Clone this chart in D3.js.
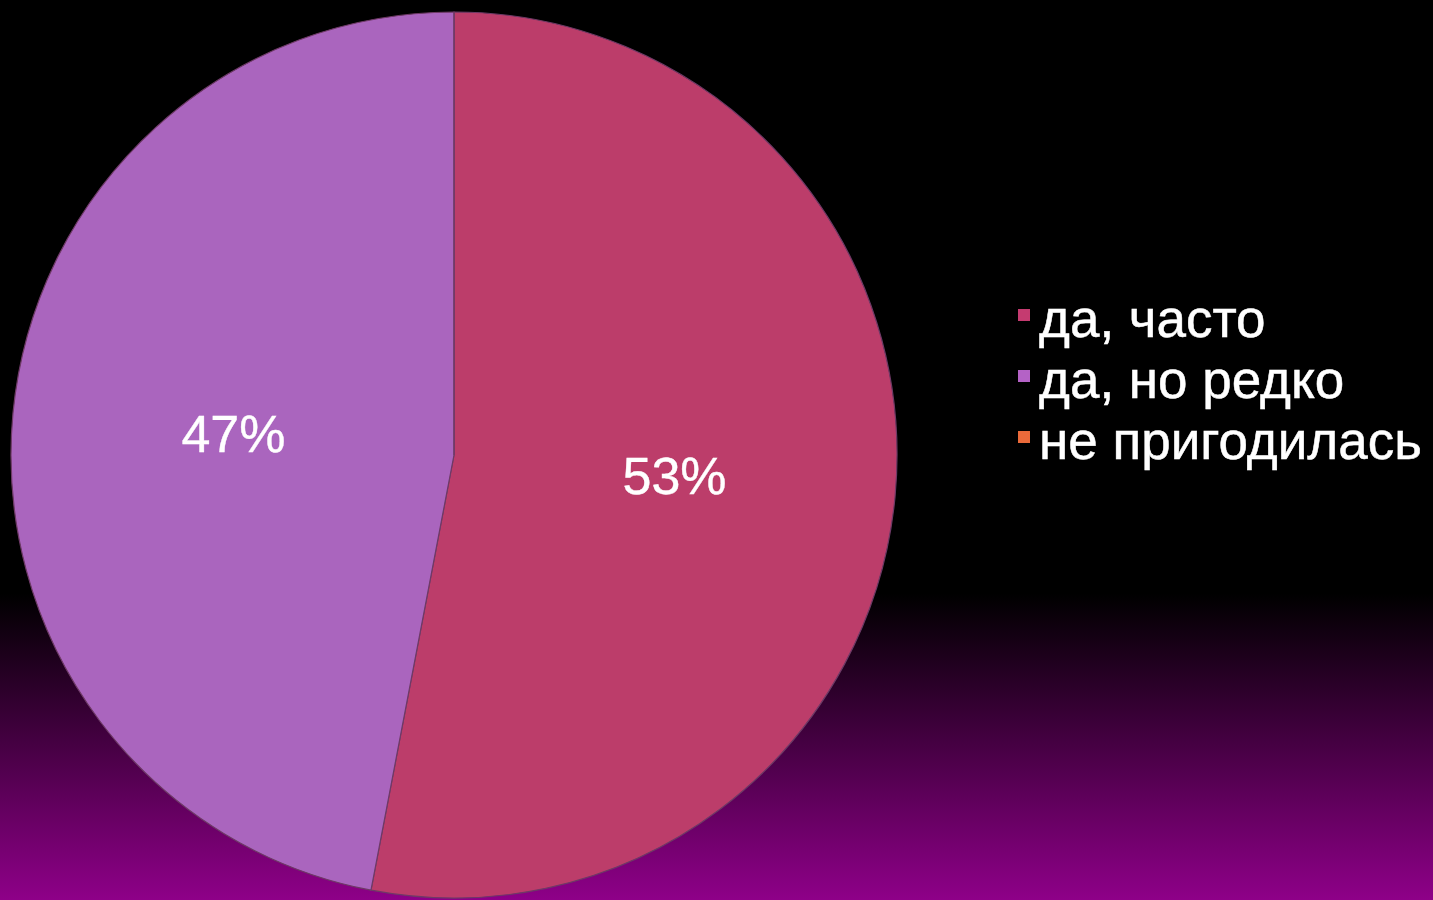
<!DOCTYPE html>
<html>
<head>
<meta charset="utf-8">
<script src="https://cdn.jsdelivr.net/npm/d3@7"></script>
<style>
html,body{margin:0;padding:0;overflow:hidden;}
body{width:1433px;height:900px;}
</style>
</head>
<body>
<svg id="chart" width="1433" height="900"></svg>
<script>
const categories = ["да, часто", "да, но редко", "не пригодилась"];
const values = [53, 47, 0];
const labels = ["53%", "47%", ""];
const colors = ["#BC3D6A", "#AA65BE", "#E8683A"];
const legendColors = ["#C53B70", "#B462C6", "#EA6A3A"];

const svg = d3.select("#chart");
const W = 1433, H = 900;

const defs = svg.append("defs");
const grad = defs.append("linearGradient").attr("id","bg").attr("x1",0).attr("y1",0).attr("x2",0).attr("y2",1);
grad.append("stop").attr("offset","0%").attr("stop-color","#000000");
grad.append("stop").attr("offset","66%").attr("stop-color","#000000");
grad.append("stop").attr("offset","100%").attr("stop-color","#8E0088");
svg.append("rect").attr("width",W).attr("height",H).attr("fill","url(#bg)");

const cx = 454, cy = 455, r = 443;
const pie = d3.pie().sort(null).value(d => d);
const arcs = pie(values);
const arc = d3.arc().innerRadius(0).outerRadius(r);

const g = svg.append("g").attr("transform", `translate(${cx},${cy})`);
g.selectAll("path").data(arcs).join("path")
  .attr("d", arc)
  .attr("fill", (d,i) => colors[i])
  .attr("stroke", "#6e3a66")
  .attr("stroke-width", 1.2);

g.selectAll("text").data(arcs).join("text")
  .attr("x", d => arc.centroid(d)[0])
  .attr("y", d => arc.centroid(d)[1] + 18)
  .attr("text-anchor","middle")
  .attr("font-family","Liberation Sans, Arial, sans-serif")
  .attr("font-size", 52)
  .attr("fill","#ffffff")
  .attr("stroke","#ffffff").attr("stroke-width",0.4)
  .text((d,i) => labels[i]);

const legend = svg.append("g").attr("transform","translate(1018,309)");
const items = legend.selectAll("g").data(categories).join("g")
  .attr("transform", (d,i) => `translate(0,${i*61})`);
items.append("rect").attr("width",12).attr("height",12).attr("fill",(d,i)=>legendColors[i]);
items.append("text")
  .attr("x", 21).attr("y", 28)
  .attr("font-family","Liberation Sans, Arial, sans-serif")
  .attr("font-size", 53)
  .attr("fill","#ffffff")
  .attr("stroke","#ffffff").attr("stroke-width",0.5)
  .text(d => d);
</script>
</body>
</html>
